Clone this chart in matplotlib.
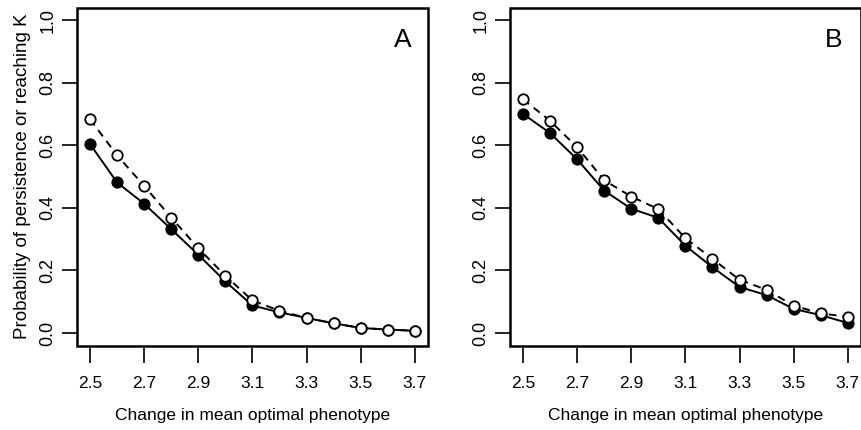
import matplotlib
matplotlib.use("Agg")
import matplotlib.pyplot as plt
from matplotlib.patches import Rectangle

# change in mean optimal phenotype
x = [2.5, 2.6, 2.7, 2.8, 2.9, 3.0, 3.1, 3.2, 3.3, 3.4, 3.5, 3.6, 3.7]

# panel A
a_filled = [0.604, 0.481, 0.413, 0.332, 0.250, 0.165, 0.088, 0.066, 0.048, 0.031, 0.016, 0.011, 0.007]
a_open = [0.683, 0.568, 0.470, 0.369, 0.271, 0.183, 0.104, 0.071, 0.048, 0.031, 0.016, 0.011, 0.007]

# panel B
b_filled = [0.700, 0.639, 0.555, 0.455, 0.397, 0.368, 0.279, 0.210, 0.147, 0.121, 0.077, 0.057, 0.032]
b_open = [0.747, 0.678, 0.594, 0.488, 0.436, 0.396, 0.303, 0.237, 0.170, 0.138, 0.087, 0.063, 0.051]

xticks = [2.5, 2.7, 2.9, 3.1, 3.3, 3.5, 3.7]
yticks = [0.0, 0.2, 0.4, 0.6, 0.8, 1.0]

plt.rcParams['font.family'] = ['Liberation Sans', 'DejaVu Sans']

fig = plt.figure(figsize=(8.62, 4.30), dpi=100)
axA = fig.add_axes([0.0893, 0.1965, 0.407, 0.786])
axB = fig.add_axes([0.5916, 0.1965, 0.407, 0.786])

for ax, filled, opn, lab, lx in [(axA, a_filled, a_open, "A", 0.929), (axB, b_filled, b_open, "B", 0.923)]:
    ax.plot(x, opn, color="black", lw=1.4, ls=(0, (4, 3)), marker="o", ms=7.5,
            mfc="white", mec="black", mew=1.3, zorder=3)
    ax.plot(x, filled, color="black", lw=1.4, marker="o", ms=7.5,
            mfc="black", mec="black", mew=1.3, zorder=2)
    ax.set_xlim(2.452, 3.748)
    ax.set_ylim(-0.04, 1.04)
    ax.set_xticks(xticks)
    ax.set_xticklabels(["%.1f" % v for v in xticks])
    ax.set_yticks(yticks)
    ax.set_yticklabels(["%.1f" % v for v in yticks], rotation=90, va="center", fontsize=13)
    for s in ax.spines.values():
        s.set_color("none")
    ax.spines['bottom'].set_position(('outward', 2))
    ax.add_patch(Rectangle((0, 0), 1, 1, transform=ax.transAxes, fill=False,
                           lw=1.8, ec="black", clip_on=False, zorder=5))
    ax.tick_params(axis='both', direction='out', length=11, width=1.2)
    ax.tick_params(axis='x', pad=9, labelsize=12.5)
    ax.tick_params(axis='y', pad=4)
    ax.set_xlabel("Change in mean optimal phenotype", fontsize=12.5, labelpad=12)
    ax.text(lx, 0.904, lab, transform=ax.transAxes, ha="center", va="center", fontsize=19)

axA.set_ylabel("Probability of persistence or reaching K", fontsize=13.5, labelpad=6)

fig.savefig("out.png", dpi=100)
